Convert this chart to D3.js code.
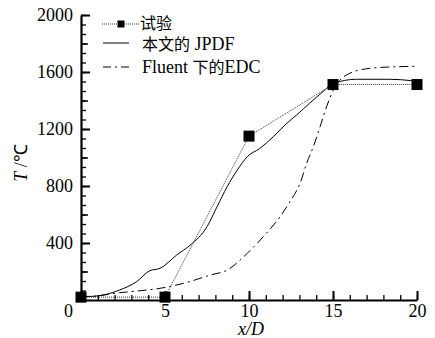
<!DOCTYPE html>
<html>
<head>
<meta charset="utf-8">
<script src="https://cdn.jsdelivr.net/npm/d3@7"></script>
<style>
  body { margin: 0; background: #fff; font-family: 'Liberation Serif'; }
</style>
</head>
<body>
<div id="vis"></div>
<script>
// experiment (试验)
var expX = [0, 5, 10, 15, 20];
var expT = [20, 20, 1150, 1512, 1512];

// JPDF (本文的 JPDF)
var jpdfX = [0, 0.5, 2.3, 3.3, 4.1, 4.7, 5.7, 6.5, 7.5, 8.1, 8.7, 9.3, 9.9, 10.65, 11.45, 12.25, 12.85, 13.6, 14.4, 15, 16.4, 18.4, 19.6, 20];
var jpdfT = [25, 25, 70, 128, 206, 222, 316, 385, 514, 655, 795, 912, 1006, 1064, 1146, 1240, 1300, 1380, 1462, 1518, 1549, 1549, 1540, 1535];

// EDC (Fluent 下的EDC)
var edcX = [0, 0.5, 2.3, 3.5, 4.7, 6.1, 7.7, 8.7, 9.9, 10.85, 11.85, 12.44, 13.04, 13.43, 13.83, 14.23, 14.62, 15.02, 15.8, 17.2, 18.8, 20];
var edcT = [25, 25, 51, 65, 82, 117, 175, 210, 328, 444, 585, 690, 819, 959, 1076, 1216, 1357, 1474, 1579, 1626, 1637, 1640];

var xMajor = [0, 5, 10, 15, 20];
var yMajor = [0, 400, 800, 1200, 1600, 2000];
// legend names split into [latin/cjk, text] runs
var legendNames = [
  [['cjk', '试验']],
  [['cjk', '本文的'], ['lat', ' JPDF']],
  [['lat', 'Fluent '], ['cjk', '下的'], ['lat', 'EDC']]
];

var width = 435;
var height = 338;
var serif = "'Liberation Serif'";
var cjk = "'Noto Sans CJK SC'";

var svg = d3.select('#vis').append('svg')
  .attr('width', width)
  .attr('height', height);

var x = d3.scaleLinear().domain([0, 20]).range([81, 417]);
var y = d3.scaleLinear().domain([0, 2000]).range([300, 15]);

// minor ticks first, then major axes on top
svg.append('g')
  .attr('transform', 'translate(0,300)')
  .call(d3.axisBottom(x).tickValues(d3.range(0, 21, 1)).tickSizeInner(-5).tickSizeOuter(0).tickFormat(''))
  .call(function(g) { g.select('.domain').remove(); g.selectAll('line').attr('stroke-width', 1.3); });

svg.append('g')
  .attr('transform', 'translate(81,0)')
  .call(d3.axisLeft(y).tickValues(d3.range(0, 2001, 400 / 6)).tickSizeInner(-5).tickSizeOuter(0).tickFormat(''))
  .call(function(g) { g.select('.domain').remove(); g.selectAll('line').attr('stroke-width', 1.3); });

svg.append('g')
  .attr('transform', 'translate(81,0)')
  .call(d3.axisLeft(y).tickValues(d3.range(200, 2001, 400)).tickSizeInner(-7).tickSizeOuter(0).tickFormat(''))
  .call(function(g) { g.select('.domain').remove(); g.selectAll('line').attr('stroke-width', 1.5); });

var xAxis = svg.append('g')
  .attr('transform', 'translate(0,300)')
  .call(d3.axisBottom(x).tickValues(xMajor).tickSizeInner(-9).tickSizeOuter(0).tickPadding(4).tickFormat(d3.format('d')));

var yAxis = svg.append('g')
  .attr('transform', 'translate(81,0)')
  .call(d3.axisLeft(y).tickValues(yMajor.filter(function(d) { return d > 0; })).tickSizeInner(-9).tickSizeOuter(0).tickPadding(8).tickFormat(d3.format('d')));

[xAxis, yAxis].forEach(function(g) {
  g.attr('font-family', null).attr('font-size', 18);
  g.selectAll('text').style('font-family', serif);
  g.select('.domain').attr('stroke-width', 2.2);
  g.selectAll('line').attr('stroke-width', 2);
});
// the 0 label sits left of the corner
xAxis.selectAll('.tick').filter(function(d) { return d === 0; }).select('text').attr('x', -13);

// curves
var line = d3.line()
  .x(function(d) { return x(d[0]); })
  .y(function(d) { return y(d[1]); })
  .curve(d3.curveMonotoneX);

var expData = d3.zip(expX, expT);
var jpdfData = d3.zip(jpdfX, jpdfT);
var edcData = d3.zip(edcX, edcT);

svg.append('path')
  .datum(edcData)
  .attr('d', line)
  .attr('fill', 'none')
  .attr('stroke', '#000')
  .attr('stroke-width', 1)
  .attr('stroke-dasharray', '9,4,2,4');

svg.append('path')
  .datum(jpdfData)
  .attr('d', line)
  .attr('fill', 'none')
  .attr('stroke', '#000')
  .attr('stroke-width', 1);

svg.append('path')
  .datum(expData)
  .attr('d', d3.line().x(function(d) { return x(d[0]); }).y(function(d) { return y(d[1]); }))
  .attr('fill', 'none')
  .attr('stroke', '#333')
  .attr('stroke-width', 1)
  .attr('stroke-dasharray', '1,1');

svg.selectAll('.marker')
  .data(expData)
  .enter().append('rect')
  .attr('class', 'marker')
  .attr('x', function(d) { return x(d[0]) - 5.5; })
  .attr('y', function(d) { return y(d[1]) - 5.5; })
  .attr('width', 11)
  .attr('height', 11)
  .attr('fill', '#000');

// legend
var legend = svg.append('g');
legend.append('line')
  .attr('x1', 102).attr('x2', 140).attr('y1', 24).attr('y2', 24)
  .attr('stroke', '#333').attr('stroke-width', 1).attr('stroke-dasharray', '1,1');
legend.append('rect')
  .attr('x', 117.5).attr('y', 20.5).attr('width', 7).attr('height', 7).attr('fill', '#000');
legend.append('line')
  .attr('x1', 103).attr('x2', 129).attr('y1', 43).attr('y2', 43)
  .attr('stroke', '#000').attr('stroke-width', 1);
legend.append('line')
  .attr('x1', 103).attr('x2', 129).attr('y1', 67).attr('y2', 67)
  .attr('stroke', '#000').attr('stroke-width', 1).attr('stroke-dasharray', '8,4,2,4');

legend.selectAll('text')
  .data(legendNames)
  .enter().append('text')
  .attr('x', function(d, i) { return i === 0 ? 140 : 142; })
  .attr('y', function(d, i) { return [29, 50, 73][i]; })
  .attr('font-size', 18)
  .attr('fill', '#000')
  .selectAll('tspan')
  .data(function(d) { return d; })
  .enter().append('tspan')
  .style('font-family', function(d) { return d[0] === 'cjk' ? cjk : serif; })
  .attr('font-size', function(d) { return d[0] === 'cjk' ? 16 : 18; })
  .style('white-space', 'pre')
  .text(function(d) { return d[1]; });

// axis titles
svg.append('text')
  .attr('transform', 'translate(27,163) rotate(-90)')
  .attr('text-anchor', 'middle')
  .style('font-family', serif)
  .attr('font-size', 18)
  .call(function(t) {
    t.append('tspan').attr('font-style', 'italic').text('T');
    t.append('tspan').text(' /℃');
  });

svg.append('text')
  .attr('x', 251)
  .attr('y', 335)
  .attr('text-anchor', 'middle')
  .style('font-family', serif)
  .attr('font-size', 18)
  .attr('font-style', 'italic')
  .text('x/D');
</script>
</body>
</html>
